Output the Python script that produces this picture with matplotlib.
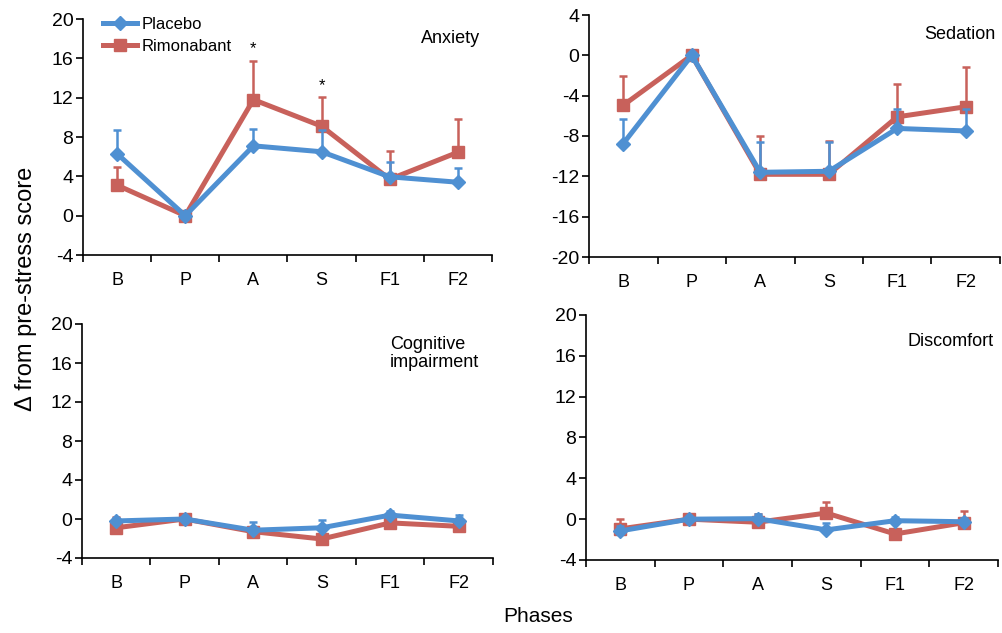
import matplotlib
matplotlib.use("Agg")
import matplotlib.pyplot as plt
from matplotlib.lines import Line2D

plt.rcParams['font.family'] = ['Liberation Sans', 'DejaVu Sans']

phases = ["B", "P", "A", "S", "F1", "F2"]

anx_placebo = [6.3, 0.0, 7.1, 6.5, 3.95, 3.4]
anx_placebo_err = [2.45, 0.0, 1.75, 2.2, 1.55, 1.45]
anx_rimon = [3.1, 0.0, 11.8, 9.1, 3.7, 6.45]
anx_rimon_err = [1.9, 0.0, 3.9, 3.0, 2.85, 3.4]

sed_placebo = [-8.75, 0.0, -11.6, -11.5, -7.25, -7.5]
sed_placebo_err = [2.45, 0.0, 3.0, 2.9, 1.9, 2.2]
sed_rimon = [-4.95, 0.0, -11.8, -11.8, -6.1, -5.1]
sed_rimon_err = [2.9, 0.0, 3.8, 3.3, 3.25, 3.95]

cog_placebo = [-0.2, 0.0, -1.15, -0.9, 0.4, -0.2]
cog_placebo_err = [0.3, 0.0, 0.8, 0.75, 0.4, 0.65]
cog_rimon = [-0.9, 0.0, -1.3, -2.05, -0.4, -0.75]
cog_rimon_err = [1.1, 0.0, 0.3, 0.3, 0.3, 0.3]

dis_placebo = [-1.15, 0.0, 0.05, -1.05, -0.15, -0.25]
dis_placebo_err = [0.5, 0.0, 0.5, 0.7, 0.4, 0.35]
dis_rimon = [-0.95, 0.0, -0.3, 0.6, -1.45, -0.35]
dis_rimon_err = [0.95, 0.0, 0.85, 1.1, 0.3, 1.15]

BLUE = "#4f90d2"
RED = "#c8615b"

W, H = 1003, 633
fig = plt.figure(figsize=(W / 100, H / 100), dpi=100)


def rect(x0, y0, x1, y1):
    return [x0 / W, 1 - y1 / H, (x1 - x0) / W, (y1 - y0) / H]


panels = [
    dict(r=rect(83, 19, 492, 255), ylim=(-4, 20), ticks=range(-4, 21, 4),
         p=anx_placebo, pe=anx_placebo_err, rm=anx_rimon, re=anx_rimon_err,
         title="Anxiety", tx=0.97, ty=0.955, ha="right"),
    dict(r=rect(589, 15, 1000, 257), ylim=(-20, 4), ticks=range(-20, 5, 4),
         p=sed_placebo, pe=sed_placebo_err, rm=sed_rimon, re=sed_rimon_err,
         title="Sedation", tx=0.99, ty=0.955, ha="right"),
    dict(r=rect(82, 324, 493, 558), ylim=(-4, 20), ticks=range(-4, 21, 4),
         p=cog_placebo, pe=cog_placebo_err, rm=cog_rimon, re=cog_rimon_err,
         title="Cognitive\nimpairment", tx=0.75, ty=0.95, ha="left"),
    dict(r=rect(586, 315, 998, 560), ylim=(-4, 20), ticks=range(-4, 21, 4),
         p=dis_placebo, pe=dis_placebo_err, rm=dis_rimon, re=dis_rimon_err,
         title="Discomfort", tx=0.99, ty=0.925, ha="right"),
]

x = list(range(len(phases)))
axes = []
for pn in panels:
    ax = fig.add_axes(pn["r"])
    axes.append(ax)
    ax.errorbar(x, pn["rm"], yerr=[[0] * 6, pn["re"]], color=RED, lw=3.6,
                marker="s", ms=9, capsize=3, elinewidth=1.8, capthick=1.8,
                zorder=2)
    ax.errorbar(x, pn["p"], yerr=[[0] * 6, pn["pe"]], color=BLUE, lw=3.6,
                marker="D", ms=7.5, capsize=3, elinewidth=1.8, capthick=1.8,
                zorder=3)
    ax.set_xlim(-0.5, 5.5)
    ax.set_ylim(*pn["ylim"])
    ax.set_yticks(list(pn["ticks"]))
    ax.set_yticklabels([str(t) for t in pn["ticks"]], fontsize=14)
    ax.set_xticks([i - 0.5 for i in range(7)])
    ax.set_xticklabels([])
    ax.set_xticks(x, minor=True)
    ax.set_xticklabels(phases, minor=True, fontsize=13)
    ax.tick_params(axis="x", which="minor", length=0, pad=12)
    ax.tick_params(axis="x", which="major", length=5, width=1.2, direction="out")
    ax.tick_params(axis="y", length=5, width=1.2, direction="out", pad=2)
    for s in ("top", "right"):
        ax.spines[s].set_visible(False)
    for s in ("left", "bottom"):
        ax.spines[s].set_linewidth(1.2)
    ax.text(pn["tx"], pn["ty"], pn["title"], transform=ax.transAxes,
            ha=pn["ha"], va="top", fontsize=13, linespacing=1.1)

ax0 = axes[0]
handles = [Line2D([], [], color=BLUE, lw=3.6, marker="D", ms=7.5),
           Line2D([], [], color=RED, lw=3.6, marker="s", ms=9)]
ax0.legend(handles, ["Placebo", "Rimonabant"], loc="upper left",
           bbox_to_anchor=(0.025, 1.05), frameon=False, fontsize=12,
           handlelength=2.0, handletextpad=0.3, labelspacing=0.4,
           borderaxespad=0.2)
ax0.text(2, 16.2, "*", ha="center", va="bottom", fontsize=12)
ax0.text(3, 12.5, "*", ha="center", va="bottom", fontsize=12)

fig.text(26 / W, 1 - 289 / H, "Δ from pre-stress score", rotation=90,
         ha="center", va="center", fontsize=17)
fig.text(538 / W, 1 - 617 / H, "Phases", ha="center", va="center", fontsize=15)

fig.savefig("out.png", dpi=100)
